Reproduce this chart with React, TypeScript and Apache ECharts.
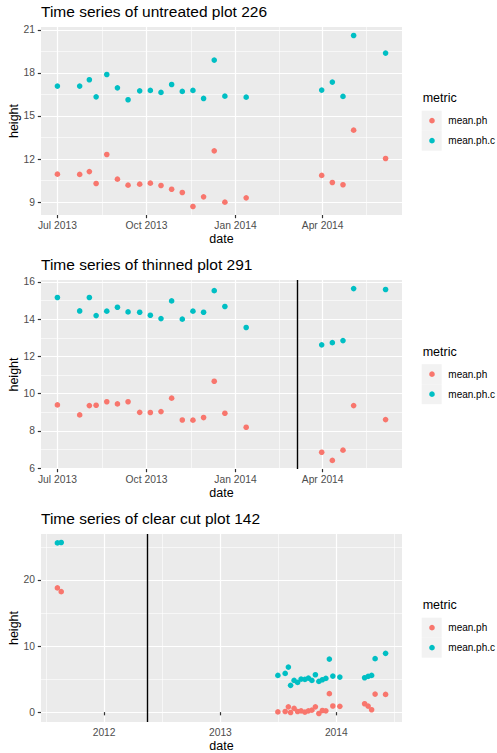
import React, { useEffect, useRef } from 'react';
import * as echarts from 'echarts';

const RED = '#F8766D';
const CYAN = '#00BFC4';
const FONT = '"Liberation Sans", Arial, Helvetica, sans-serif';

// ---- data ----
const titles = [
  'Time series of untreated plot 226',
  'Time series of thinned plot 291',
  'Time series of clear cut plot 142',
];
const seriesNames = ['mean.ph', 'mean.ph.c'];

const dates226 = ['2013-07-01', '2013-07-24', '2013-08-03', '2013-08-10', '2013-08-21', '2013-09-01', '2013-09-12', '2013-09-24', '2013-10-05', '2013-10-16', '2013-10-27', '2013-11-07', '2013-11-18', '2013-11-29', '2013-12-10', '2013-12-21', '2014-01-12', '2014-03-31', '2014-04-11', '2014-04-22', '2014-05-03', '2014-06-05'];
const meanPh226 = [10.95, 10.93, 11.13, 10.3, 12.32, 10.6, 10.18, 10.25, 10.32, 10.16, 9.9, 9.67, 8.7, 9.37, 12.57, 9.0, 9.3, 10.86, 10.37, 10.21, 14.01, 12.04];
const meanPhC226 = [17.08, 17.08, 17.52, 16.33, 17.89, 16.96, 16.13, 16.75, 16.78, 16.64, 17.19, 16.71, 16.78, 16.22, 18.89, 16.38, 16.31, 16.8, 17.36, 16.36, 20.6, 19.38];

const dates291 = ['2013-07-01', '2013-07-24', '2013-08-03', '2013-08-10', '2013-08-21', '2013-09-01', '2013-09-12', '2013-09-24', '2013-10-05', '2013-10-16', '2013-10-27', '2013-11-07', '2013-11-18', '2013-11-29', '2013-12-10', '2013-12-21', '2014-01-12', '2014-03-31', '2014-04-11', '2014-04-22', '2014-05-03', '2014-06-05'];
const meanPh291 = [9.4, 8.86, 9.36, 9.38, 9.57, 9.45, 9.57, 9.0, 8.99, 9.04, 9.76, 8.59, 8.58, 8.72, 10.67, 8.95, 8.2, 6.86, 6.42, 6.97, 9.36, 8.61];
const meanPhC291 = [15.16, 14.44, 15.16, 14.19, 14.43, 14.64, 14.39, 14.37, 14.21, 14.03, 14.98, 14.0, 14.43, 14.37, 15.53, 14.68, 13.55, 12.62, 12.74, 12.85, 15.64, 15.59];
const treatment291 = '2014-03-06';

const dates142 = ['2011-08-07', '2011-08-19', '2013-07-01', '2013-07-24', '2013-08-03', '2013-08-10', '2013-08-21', '2013-09-01', '2013-09-12', '2013-09-24', '2013-10-05', '2013-10-16', '2013-10-27', '2013-11-07', '2013-11-18', '2013-11-29', '2013-12-10', '2013-12-21', '2014-01-12', '2014-03-31', '2014-04-11', '2014-04-22', '2014-05-03', '2014-06-05'];
const meanPh142 = [18.79, 18.23, 0.03, 0.1, 0.8, -0.05, 0.56, 0.1, 0.2, 0.0, 0.2, 0.3, 0.8, -0.2, 0.25, 0.2, 2.8, 0.93, 0.88, 1.27, 0.91, 0.36, 2.73, 2.68];
const meanPhC142 = [25.6, 25.66, 5.56, 5.86, 6.82, 4.05, 4.8, 4.5, 5.0, 4.95, 5.15, 4.8, 5.66, 4.65, 4.9, 5.1, 8.03, 5.45, 5.3, 5.2, 5.4, 5.56, 8.09, 8.9];
const treatment142 = '2012-05-16';

// tick breaks
const xBreaksQuarter = ['2013-04-01', '2013-07-01', '2013-10-01', '2014-01-01', '2014-04-01', '2014-07-01'];
const xBreaksYear = ['2011-01-01', '2012-01-01', '2013-01-01', '2014-01-01', '2015-01-01'];
const yBreaks226 = [6, 9, 12, 15, 18, 21, 24];
const yBreaks291 = [4, 6, 8, 10, 12, 14, 16, 18];
const yBreaks142 = [-10, 0, 10, 20, 30];
const monthNames = ['Jan', 'Feb', 'Mar', 'Apr', 'May', 'Jun', 'Jul', 'Aug', 'Sep', 'Oct', 'Nov', 'Dec'];

// ---- helpers ----
const toTs = (s: string) => {
  const [y, m, d] = s.split('-').map(Number);
  return Date.UTC(y, m - 1, d);
};
const expand = (vals: number[]) => {
  const lo = Math.min(...vals);
  const hi = Math.max(...vals);
  const pad = (hi - lo) * 0.05;
  return [lo - pad, hi + pad];
};
const mids = (b: number[]) => b.slice(1).map((v, i) => (v + b[i]) / 2);
const inRange = (b: number[], r: number[]) => b.filter((v) => v >= r[0] && v <= r[1]);

const GRID_LEFT = 41;
const GRID_W = 361;
const TICK_FS = 10.3;
const LEGEND_FS = 10;
const AXIS_TITLE_FS = 12.5;
const TITLE_FS = 15.5;
const MAJOR_W = 1.2;
const MINOR_W = 0.6;

const panels = [
  { top: 27, height: 188, dates: dates226, ph: meanPh226, phc: meanPhC226, xb: xBreaksQuarter, yb: yBreaks226, fmt: 'q', vline: null as string | null, titleTop: 3.3 },
  { top: 280, height: 189, dates: dates291, ph: meanPh291, phc: meanPhC291, xb: xBreaksQuarter, yb: yBreaks291, fmt: 'q', vline: treatment291, titleTop: 256.8 },
  { top: 534, height: 188, dates: dates142, ph: meanPh142, phc: meanPhC142, xb: xBreaksYear, yb: yBreaks142, fmt: 'y', vline: treatment142, titleTop: 510.3 },
];

function buildOption() {
  const grid: any[] = [];
  const xAxis: any[] = [];
  const yAxis: any[] = [];
  const series: any[] = [];
  const title: any[] = [];
  const graphic: any[] = [];

  panels.forEach((p, i) => {
    const ts = p.dates.map(toTs);
    const xr = expand(ts);
    const yr = expand([...p.ph, ...p.phc]);
    const xMajor = p.xb.map(toTs);
    const xMinor = inRange(mids(xMajor), xr);
    const xMaj = inRange(xMajor, xr);
    const yMaj = inRange(p.yb, yr);
    const yMin = inRange(mids(p.yb), yr);

    grid.push({
      left: GRID_LEFT, top: p.top, width: GRID_W, height: p.height,
      show: true, backgroundColor: '#EBEBEB', borderWidth: 0,
      containLabel: false, outerBoundsMode: 'none',
    });
    title.push({
      text: titles[i], left: GRID_LEFT, top: p.titleTop, padding: 0,
      textStyle: { fontSize: TITLE_FS, fontWeight: 'normal', color: '#000', fontFamily: FONT },
    });

    const fmt = (v: number) => {
      const d = new Date(v);
      return p.fmt === 'q' ? `${monthNames[d.getUTCMonth()]} ${d.getUTCFullYear()}` : `${d.getUTCFullYear()}`;
    };

    // primary x (timestamps on a value axis)
    xAxis.push({
      type: 'value', gridIndex: i, min: xr[0], max: xr[1], position: 'bottom', scale: true,
      axisLine: { show: false },
      axisTick: { show: true, length: 3.2, lineStyle: { color: '#333333', width: MAJOR_W }, customValues: xMaj },
      axisLabel: { show: true, customValues: xMaj, formatter: fmt, color: '#4D4D4D', fontSize: TICK_FS, margin: 5, fontFamily: FONT },
      splitLine: { show: true, lineStyle: { color: '#FFFFFF', width: MAJOR_W } },
      minorTick: { show: false }, minorSplitLine: { show: false },
      name: 'date', nameLocation: 'middle', nameGap: 17.5, nameMoveOverlap: false,
      nameTextStyle: { fontSize: AXIS_TITLE_FS, color: '#000', fontFamily: FONT },
    });
    // minor x grid
    xAxis.push({
      type: 'value', gridIndex: i, min: xr[0], max: xr[1], position: 'top', scale: true,
      axisLine: { show: false },
      axisTick: { show: false, customValues: xMinor },
      axisLabel: { show: false },
      splitLine: { show: true, lineStyle: { color: '#FFFFFF', width: MINOR_W } },
    });
    // primary y
    yAxis.push({
      type: 'value', gridIndex: i, min: yr[0], max: yr[1], position: 'left', scale: true,
      axisLine: { show: false },
      axisTick: { show: true, length: 3.2, lineStyle: { color: '#333333', width: MAJOR_W }, customValues: yMaj },
      axisLabel: { show: true, customValues: yMaj, color: '#4D4D4D', fontSize: TICK_FS, margin: 6, fontFamily: FONT, formatter: (v: number) => `${Math.round(v)}` },
      splitLine: { show: true, lineStyle: { color: '#FFFFFF', width: MAJOR_W } },
      name: 'height', nameLocation: 'middle', nameGap: 20.3, nameRotate: 90, nameMoveOverlap: false,
      nameTextStyle: { fontSize: AXIS_TITLE_FS, color: '#000', fontFamily: FONT },
    });
    // minor y grid
    yAxis.push({
      type: 'value', gridIndex: i, min: yr[0], max: yr[1], position: 'right', scale: true,
      axisLine: { show: false },
      axisTick: { show: false, customValues: yMin },
      axisLabel: { show: false },
      splitLine: { show: true, lineStyle: { color: '#FFFFFF', width: MINOR_W } },
    });

    const vals = [p.ph, p.phc];
    [RED, CYAN].forEach((c, k) => {
      const s: any = {
        type: 'scatter', name: seriesNames[k], xAxisIndex: i * 2, yAxisIndex: i * 2,
        symbol: 'circle', symbolSize: 5.6, itemStyle: { color: c, opacity: 1 },
        data: ts.map((t, j) => [t, vals[k][j]]), z: 3, silent: true,
      };
      if (k === 0 && p.vline) {
        s.markLine = {
          silent: true, symbol: ['none', 'none'], label: { show: false },
          lineStyle: { color: '#000000', width: 1.4, type: 'solid' },
          emphasis: { disabled: true },
          data: [{ xAxis: toTs(p.vline) }],
        };
      }
      series.push(s);
    });

    // legend (ggplot style)
    const cy = p.top + p.height / 2;
    graphic.push(
      { type: 'text', x: 422.7, y: cy - 23, style: { text: 'metric', fontSize: AXIS_TITLE_FS, fill: '#000', fontFamily: FONT, verticalAlign: 'middle', align: 'left' } },
      { type: 'rect', shape: { x: 421.7, y: cy - 10.3, width: 20, height: 20 }, style: { fill: '#F2F2F2' } },
      { type: 'rect', shape: { x: 421.7, y: cy + 9.7, width: 20, height: 20 }, style: { fill: '#F2F2F2' } },
      { type: 'circle', shape: { cx: 432, cy: cy - 0.3, r: 2.8 }, style: { fill: RED } },
      { type: 'circle', shape: { cx: 432, cy: cy + 19.7, r: 2.8 }, style: { fill: CYAN } },
      { type: 'text', x: 448.3, y: cy - 0.3, style: { text: seriesNames[0], fontSize: LEGEND_FS, fill: '#000', fontFamily: FONT, verticalAlign: 'middle', align: 'left' } },
      { type: 'text', x: 448.3, y: cy + 19.7, style: { text: seriesNames[1], fontSize: LEGEND_FS, fill: '#000', fontFamily: FONT, verticalAlign: 'middle', align: 'left' } },
    );
  });

  return {
    animation: false,
    backgroundColor: '#FFFFFF',
    textStyle: { fontFamily: FONT },
    title, grid, xAxis, yAxis, series, graphic,
  };
}

export default function App() {
  const ref = useRef<HTMLDivElement>(null);
  useEffect(() => {
    if (!ref.current) return;
    const chart = echarts.init(ref.current, null, { renderer: 'svg' });
    chart.setOption(buildOption() as any);
    return () => chart.dispose();
  }, []);
  return (
    <div
      ref={ref}
      style={{ position: 'fixed', left: 0, top: 0, width: 497, height: 753, background: '#fff' }}
    />
  );
}
